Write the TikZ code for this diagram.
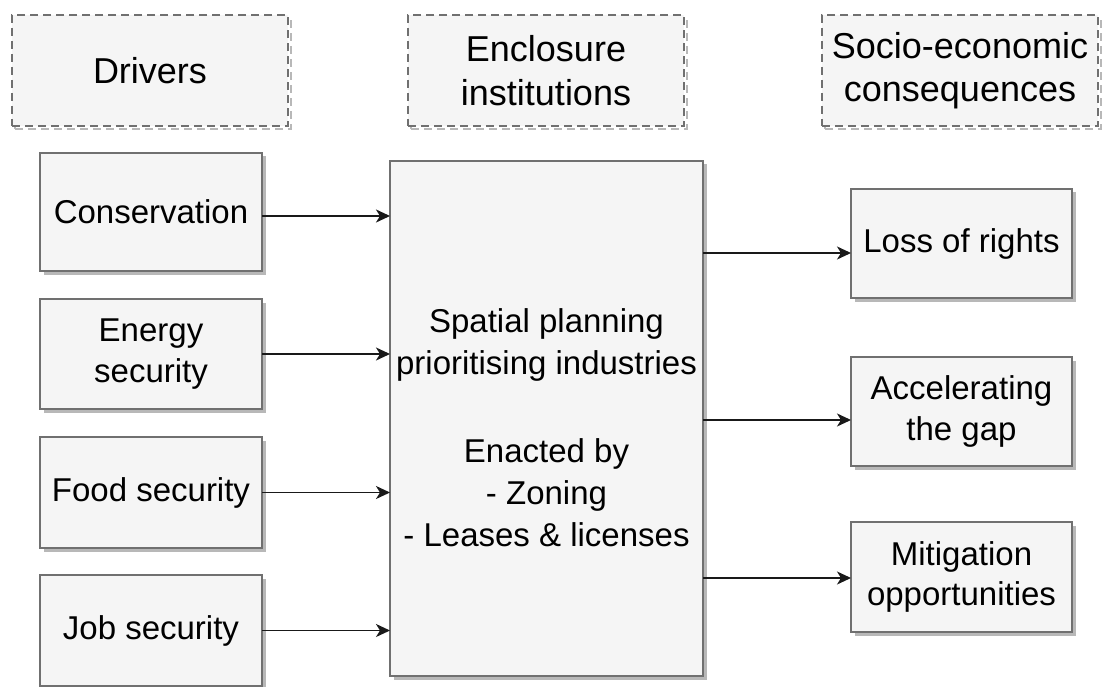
\documentclass[tikz,border=0pt]{standalone}
\usepackage{fontspec}
\setmainfont{Liberation Sans}
\usetikzlibrary{arrows.meta,shadows}
\definecolor{boxfill}{HTML}{F5F5F5}
\definecolor{boxline}{HTML}{707070}
\definecolor{shade}{HTML}{B8B8B8}
\begin{document}
\begin{tikzpicture}[x=1pt,y=-1pt,
  box/.style={draw=boxline, line width=2pt, fill=boxfill, inner sep=0pt, outer sep=0pt,
    align=center, font=\fontsize{33}{40.5}\selectfont,
    drop shadow={shadow xshift=3.5pt, shadow yshift=-3.5pt, fill=shade, opacity=1}},
  header/.style={draw=boxline, line width=2.6pt, dash pattern=on 8pt off 5pt,
    fill=boxfill, inner sep=0pt, outer sep=0pt, align=center,
    font=\fontsize{36}{43.5}\selectfont,
    minimum width=276pt, minimum height=111pt,
    drop shadow={shadow xshift=3pt, shadow yshift=-3pt, draw=shade, fill=none,
      line width=2.6pt, dash pattern=on 8pt off 5pt, opacity=1}},
  arr/.style={draw=black!90, line width=1.8pt,
    -{Stealth[length=14pt,width=13pt,inset=4pt]}}]
\useasboundingbox (0,0) rectangle (1103,687);

% column headings
\node[header] (hdrivers)   at (150,70.5) {Drivers};
\node[header] (henclosure) at (546,70.5) {Enclosure\\institutions};
\node[header] (hconseq)    at (960,70.5) {Socio-economic\\consequences};

% drivers
\node[box, minimum width=222pt, minimum height=118pt] (cons)   at (151,212)   {Conservation};
\node[box, minimum width=222pt, minimum height=110pt] (energy) at (151,354)   {Energy\\security};
\node[box, minimum width=222pt, minimum height=111pt] (food)   at (151,492.5) {Food security};
\node[box, minimum width=222pt, minimum height=111pt] (job)    at (151,630.5) {Job security};

% enclosure institution (the strut lowers the text block a little)
\node[box, minimum width=313pt, minimum height=515pt,
      font=\fontsize{33}{42}\selectfont] (plan) at (546.5,418.5)
  {\rule{0pt}{42pt}Spatial planning\\prioritising industries\\[46pt]Enacted by\\- Zoning\\- Leases \& licenses};

% consequences
\node[box, minimum width=221pt, minimum height=109pt] (loss) at (961.5,243.5) {Loss of rights};
\node[box, minimum width=221pt, minimum height=109pt] (gap)  at (961.5,411.5) {Accelerating\\the gap};
\node[box, minimum width=221pt, minimum height=110pt] (mit)  at (961.5,577)   {Mitigation\\opportunities};

% drivers feeding the institution
\draw[arr] ([yshift=-4pt]cons.east) -- ([yshift=-4pt]cons.east -| plan.west);
\draw[arr] (energy.east) -- (energy.east -| plan.west);
\draw[arr] (food.east) -- (food.east -| plan.west);
\draw[arr] (job.east) -- (job.east -| plan.west);

% institution leading to consequences
\draw[arr] ([yshift=-9.5pt]loss.west -| plan.east) -- ([yshift=-9.5pt]loss.west);
\draw[arr] ([yshift=-8.5pt]gap.west -| plan.east) -- ([yshift=-8.5pt]gap.west);
\draw[arr] ([yshift=-1pt]mit.west -| plan.east) -- ([yshift=-1pt]mit.west);
\end{tikzpicture}
\end{document}
